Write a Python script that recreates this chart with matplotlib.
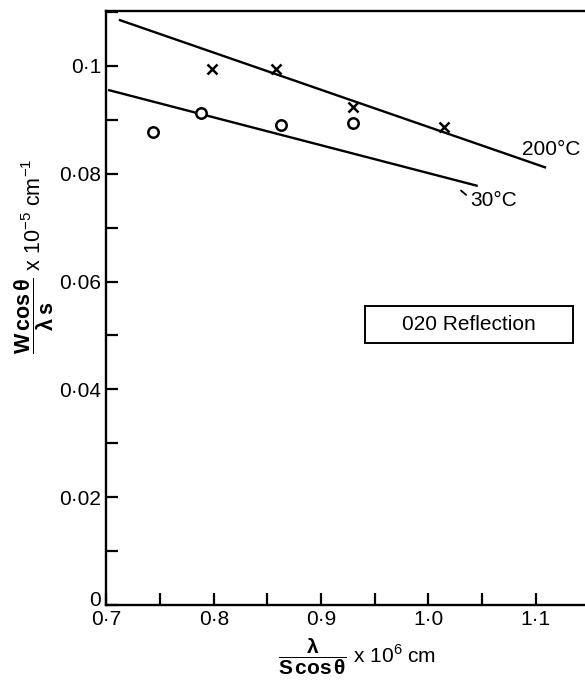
import matplotlib.pyplot as plt
from matplotlib.ticker import MultipleLocator, FixedLocator
from matplotlib.patches import Rectangle
import matplotlib.transforms as mtransforms

plt.rcParams['font.family'] = ['Liberation Sans', 'DejaVu Sans']
plt.rcParams['mathtext.fontset'] = 'custom'
plt.rcParams['mathtext.rm'] = 'Liberation Sans'
plt.rcParams['mathtext.it'] = 'Liberation Sans'
plt.rcParams['mathtext.bf'] = 'Liberation Sans:bold'

# 200 C points (crosses)
x_200 = [0.798, 0.858, 0.930, 1.015]
y_200 = [0.0994, 0.0995, 0.0923, 0.0886]
# 30 C points (circles)
x_30 = [0.743, 0.788, 0.863, 0.930]
y_30 = [0.0877, 0.0913, 0.0890, 0.0894]
# fitted lines (end points)
line_200_x = [0.7126, 1.1087]
line_200_y = [0.1085, 0.0812]
line_30_x = [0.7026, 1.045]
line_30_y = [0.0955, 0.0778]

xticks = [0.7, 0.8, 0.9, 1.0, 1.1]
xticklabels = ['0·7', '0·8', '0·9', '1·0', '1·1']
yticks = [0, 0.02, 0.04, 0.06, 0.08, 0.1]
yticklabels = ['0', '0·02', '0·04', '0·06', '0·08', '0·1']

fs = 15

fig = plt.figure(figsize=(5.85, 6.83), dpi=100)
ax = fig.add_axes([0.182, 0.1142, 0.818, 0.8697])

ax.plot(line_200_x, line_200_y, color='black', lw=1.7)
ax.plot(line_30_x, line_30_y, color='black', lw=1.7)
ax.plot(x_200, y_200, 'x', color='black', ms=7, mew=1.8)
ax.plot(x_30, y_30, 'o', mfc='white', mec='black', ms=7.5, mew=1.8)

ax.text(1.087, 0.0834, '200°C', fontsize=fs)
ax.annotate('30°C', xy=(1.0304, 0.0769), xytext=(1.0388, 0.0741), fontsize=fs,
            arrowprops=dict(arrowstyle='-', color='black', lw=1.3,
                            relpos=(0, 0.6), shrinkA=1, shrinkB=0))

# "020 Reflection" box
ax.add_patch(Rectangle((0.9409, 0.0486), 0.1939, 0.00688, fill=False,
                       ec='black', lw=1.4))
ax.text(1.0378, 0.0520, '020 Reflection', fontsize=fs, ha='center', va='center')

ax.set_xlim(0.7, 1.146)
ax.set_ylim(0, 0.1102)
ax.xaxis.set_major_locator(FixedLocator(xticks))
ax.set_xticklabels(xticklabels)
ax.xaxis.set_minor_locator(MultipleLocator(0.05))
ax.yaxis.set_major_locator(FixedLocator(yticks))
ax.set_yticklabels(yticklabels)
ax.yaxis.set_minor_locator(MultipleLocator(0.01))
ax.tick_params(which='both', direction='in', length=8.5, width=1.6, labelsize=fs)
ax.tick_params(axis='y', which='major', pad=4)
ax.tick_params(axis='x', which='major', pad=3.5)

# lift the y "0" label a little, as in the original
lab0 = ax.get_yticklabels()[0]
lab0.set_transform(lab0.get_transform() +
                   mtransforms.ScaledTranslation(0, 5 / 72, fig.dpi_scale_trans))

for s in ['left', 'bottom', 'top']:
    ax.spines[s].set_linewidth(1.7)
ax.spines['right'].set_visible(False)

fig.text(0.058, 0.625,
         r'$\dfrac{\mathbf{W\,cos\,\theta}}{\mathbf{\lambda\;s}}$ x 10$^{-5}$ cm$^{-1}$',
         rotation=90, ha='center', va='center', fontsize=fs + 0.5)
fig.text(0.61, 0.038,
         r'$\dfrac{\mathbf{\lambda}}{\mathbf{S\,cos\,\theta}}$ x 10$^{6}$ cm',
         ha='center', va='center', fontsize=fs)

fig.savefig('out.png', dpi=100)
